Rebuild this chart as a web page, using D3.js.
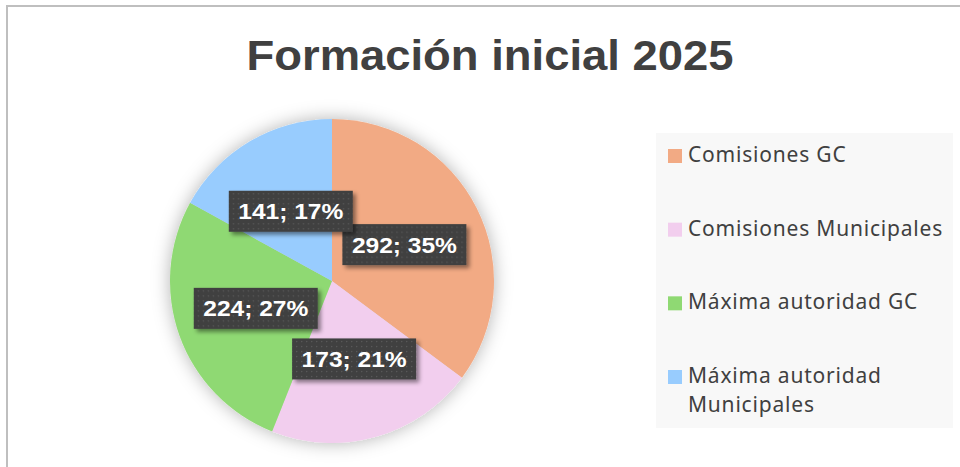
<!DOCTYPE html>
<html>
<head>
<meta charset="utf-8">
<script src="https://cdn.jsdelivr.net/npm/d3@7"></script>
<style>
  body { margin: 0; background: #fff; }
  svg { display: block; }
</style>
</head>
<body>
<svg id="chart" width="960" height="467"></svg>
<script>
// chart data
var title = "Formación inicial 2025";
var categories = ["Comisiones GC", "Comisiones Municipales", "Máxima autoridad GC", "Máxima autoridad Municipales"];
var values = [292, 173, 224, 141];
var percents = ["35%", "21%", "27%", "17%"];
var colors = ["#F2AA84", "#F2CEEE", "#8FD973", "#98CCFE"];
// legend lines (last item wraps)
var legendLines = [["Comisiones GC"], ["Comisiones Municipales"], ["Máxima autoridad GC"], ["Máxima autoridad", "Municipales"]];

var svg = d3.select("#chart");
var defs = svg.append("defs");

// soft glow behind pie
var glow = defs.append("filter").attr("id", "pieGlow")
    .attr("x", "-25%").attr("y", "-25%").attr("width", "150%").attr("height", "150%");
glow.append("feGaussianBlur").attr("in", "SourceAlpha").attr("stdDeviation", 9).attr("result", "b");
glow.append("feFlood").attr("flood-color", "#000").attr("flood-opacity", 0.3);
glow.append("feComposite").attr("in2", "b").attr("operator", "in").attr("result", "s");
var gm = glow.append("feMerge");
gm.append("feMergeNode").attr("in", "s");
gm.append("feMergeNode").attr("in", "SourceGraphic");

// label drop shadow
var sh = defs.append("filter").attr("id", "lblShadow")
    .attr("x", "-20%").attr("y", "-30%").attr("width", "150%").attr("height", "180%");
sh.append("feGaussianBlur").attr("in", "SourceAlpha").attr("stdDeviation", 2).attr("result", "b");
sh.append("feOffset").attr("in", "b").attr("dx", 3).attr("dy", 3).attr("result", "o");
sh.append("feFlood").attr("flood-color", "#000").attr("flood-opacity", 0.45);
sh.append("feComposite").attr("in2", "o").attr("operator", "in").attr("result", "s");
var sm = sh.append("feMerge");
sm.append("feMergeNode").attr("in", "s");
sm.append("feMergeNode").attr("in", "SourceGraphic");

// dotted fill for label boxes
var pat = defs.append("pattern").attr("id", "dots")
    .attr("width", 5).attr("height", 5).attr("patternUnits", "userSpaceOnUse");
pat.append("rect").attr("width", 5).attr("height", 5).attr("fill", "#404040");
pat.append("rect").attr("x", 2).attr("y", 2).attr("width", 1.2).attr("height", 1.2).attr("fill", "#5c5c5c");

// chart frame
svg.append("rect")
    .attr("x", 7).attr("y", 6).attr("width", 1000).attr("height", 500)
    .attr("fill", "#fff").attr("stroke", "#bfbfbf").attr("stroke-width", 2);

// title
svg.append("text")
    .attr("x", 490).attr("y", 70)
    .attr("text-anchor", "middle")
    .attr("textLength", 487)
    .attr("lengthAdjust", "spacingAndGlyphs")
    .style("font-family", "'Liberation Sans', Arial, sans-serif")
    .style("font-weight", "bold")
    .style("font-size", "43px")
    .attr("fill", "#404040")
    .text(title);

// pie
var cx = 332, cy = 281, radius = 162;
var pie = d3.pie().sort(null).value(function(d) { return d; });
var arc = d3.arc().innerRadius(0).outerRadius(radius);
var arcs = pie(values);

var g = svg.append("g").attr("transform", "translate(" + cx + "," + cy + ")");
g.append("g").attr("filter", "url(#pieGlow)")
    .selectAll("path").data(arcs).enter().append("path")
    .attr("d", arc)
    .attr("fill", function(d, i) { return colors[i]; });

// data labels
var boxW = 124, boxH = 41;
var labels = g.selectAll("g.lbl").data(arcs).enter().append("g")
    .attr("class", "lbl")
    .attr("transform", function(d) {
        var c = arc.centroid(d);
        return "translate(" + c[0] + "," + c[1] + ")";
    });
labels.append("rect")
    .attr("x", -boxW / 2).attr("y", -boxH / 2)
    .attr("width", boxW).attr("height", boxH)
    .attr("fill", "url(#dots)")
    .attr("filter", "url(#lblShadow)");
labels.append("text")
    .attr("text-anchor", "middle")
    .attr("dy", "0.36em")
    .attr("textLength", 105)
    .attr("lengthAdjust", "spacingAndGlyphs")
    .style("font-family", "'Liberation Sans', Arial, sans-serif")
    .style("font-weight", "bold")
    .style("font-size", "22px")
    .attr("fill", "#fff")
    .text(function(d, i) { return values[i] + "; " + percents[i]; });

// legend
var legend = svg.append("g");
legend.append("rect")
    .attr("x", 656).attr("y", 133).attr("width", 297).attr("height", 295)
    .attr("fill", "#f8f8f8");

var legendY = d3.scalePoint().domain(categories).range([162, 383]);
var items = legend.selectAll("g.item").data(categories).enter().append("g")
    .attr("class", "item")
    .attr("transform", function(d) { return "translate(0," + legendY(d) + ")"; });
items.append("rect")
    .attr("x", 668).attr("y", -13).attr("width", 14).attr("height", 14)
    .attr("fill", function(d, i) { return colors[i]; });
items.append("text")
    .attr("x", 688)
    .style("font-family", "'Noto Sans', sans-serif")
    .style("font-size", "21px")
    .style("letter-spacing", "0.8px")
    .attr("fill", "#404040")
    .selectAll("tspan").data(function(d, i) { return legendLines[i]; }).enter().append("tspan")
    .attr("x", 688)
    .attr("dy", function(d, j) { return j === 0 ? 0 : 29; })
    .text(function(d) { return d; });
</script>
</body>
</html>
